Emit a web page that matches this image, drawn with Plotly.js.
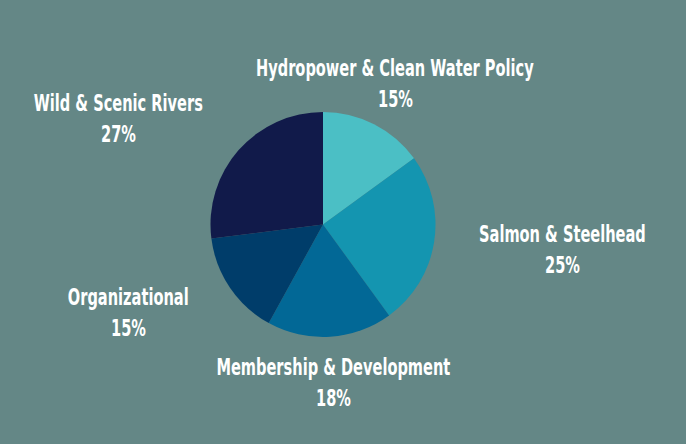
<!DOCTYPE html>
<html>
<head>
<meta charset="utf-8">
<script src="https://cdn.plot.ly/plotly-3.0.1.min.js"></script>
<style>html,body{margin:0;padding:0;background:#648786;}#chart{width:686px;height:444px;}</style>
</head>
<body>
<div id="chart"></div>
<script>
const categories = ["Hydropower & Clean Water Policy", "Salmon & Steelhead", "Membership & Development", "Organizational", "Wild & Scenic Rivers"];
const shares = [15, 25, 18, 15, 27];
const sliceColors = ["#4bbfc5", "#1495b0", "#026896", "#003d6a", "#111a4a"];

// label anchor positions (pixels) for each category
const labelX = [395, 562, 333, 128, 118];
const labelY = [68, 234, 367, 297, 103];

const W = 686, H = 444;
const font = {family: "'DejaVu Sans', sans-serif", size: 23, color: "#ffffff"};
const narrow = 0.635; // horizontal condensing to mimic the condensed display face

const annotations = [];
categories.forEach((c, i) => {
  annotations.push({
    x: labelX[i] / W, y: 1 - labelY[i] / H, xref: 'paper', yref: 'paper',
    text: '<b>' + c + '</b>', showarrow: false, xanchor: 'center', yanchor: 'middle', font: font
  });
  annotations.push({
    x: labelX[i] / W, y: 1 - (labelY[i] + 31) / H, xref: 'paper', yref: 'paper',
    text: '<b>' + shares[i] + '%</b>', showarrow: false, xanchor: 'center', yanchor: 'middle', font: font
  });
});

const cx = 323, cy = 224.5, r = 112.5;
const trace = {
  type: 'pie',
  labels: categories,
  values: shares,
  sort: false,
  direction: 'clockwise',
  rotation: 0,
  textinfo: 'none',
  hoverinfo: 'skip',
  marker: {colors: sliceColors, line: {width: 0}},
  domain: {x: [(cx - r) / W, (cx + r) / W], y: [1 - (cy + r) / H, 1 - (cy - r) / H]},
  showlegend: false
};

Plotly.newPlot('chart', [trace], {
  width: W, height: H,
  margin: {l: 0, r: 0, t: 0, b: 0},
  paper_bgcolor: '#648786',
  plot_bgcolor: '#648786',
  showlegend: false,
  annotations: annotations
}, {displayModeBar: false, staticPlot: true}).then(gd => {
  gd.querySelectorAll('text.annotation-text').forEach(t => {
    const b = t.getBBox();
    const mx = b.x + b.width / 2;
    const prev = t.getAttribute('transform') || '';
    t.setAttribute('transform', prev + ' translate(' + mx + ',0) scale(' + narrow + ',1) translate(' + (-mx) + ',0)');
  });
});
</script>
</body>
</html>
